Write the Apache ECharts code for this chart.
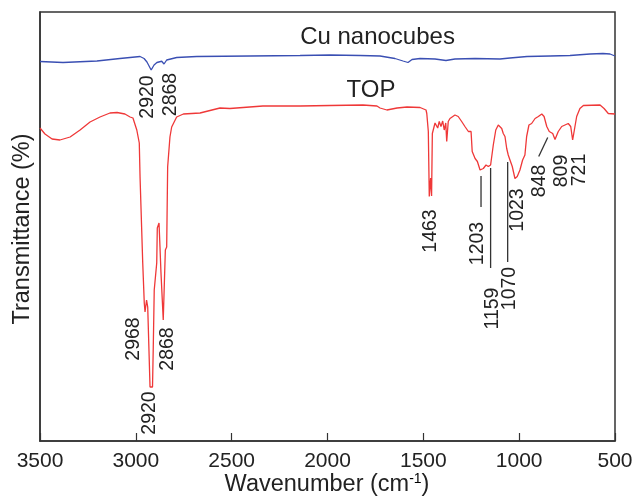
<!DOCTYPE html>
<html>
<head>
<meta charset="utf-8">
<script src="https://cdn.jsdelivr.net/npm/echarts@6/dist/echarts.min.js"></script>
<style>
  html, body { margin: 0; padding: 0; background: #fff; }
  #chart { width: 636px; height: 504px; }
</style>
</head>
<body>
<div id="chart"></div>
<script>
// FTIR spectra: Cu nanocubes vs. trioctylphosphine (TOP)
// Wavenumbers in cm^-1, transmittance in arbitrary % units (curves are offset).

const xTicks = [3500, 3000, 2500, 2000, 1500, 1000, 500];

const cuWavenumber = [3500, 3380, 3203, 3083, 2978, 2957, 2942, 2920, 2905, 2890, 2865, 2853, 2839, 2787, 2682, 2404, 2143, 1987, 1830, 1726, 1648, 1606, 1580, 1559, 1517, 1439, 1382, 1335, 1230, 1100, 1048, 959, 839, 735, 630, 563, 526, 500];
const cuTransmittance = [75.9, 75.7, 76.0, 76.5, 76.9, 76.5, 75.8, 74.2, 75.2, 75.7, 75.95, 75.4, 76.2, 76.7, 76.9, 77.0, 77.1, 77.2, 77.1, 77.0, 76.5, 76.0, 75.7, 76.3, 76.5, 76.4, 76.1, 76.4, 76.5, 76.4, 76.6, 76.9, 77.0, 77.1, 77.4, 77.5, 77.4, 77.0];

const topWavenumber = [3500, 3474, 3437, 3396, 3343, 3291, 3239, 3187, 3135, 3098, 3057, 3030, 3015, 2995, 2982, 2978, 2969, 2964, 2956, 2952, 2944, 2938, 2930, 2926, 2913, 2909, 2904, 2891, 2888, 2879, 2874, 2869, 2860, 2857, 2848, 2846, 2839, 2834, 2822, 2813, 2787, 2752, 2665, 2561, 2509, 2337, 2143, 1987, 1815, 1742, 1726, 1690, 1637, 1585, 1517, 1486, 1482, 1474, 1469, 1462, 1457, 1453, 1448, 1439, 1430, 1425, 1417, 1408, 1399, 1391, 1383, 1378, 1370, 1361, 1335, 1318, 1300, 1283, 1265, 1251, 1245, 1230, 1218, 1204, 1187, 1173, 1161, 1149, 1135, 1122, 1109, 1100, 1091, 1083, 1074, 1065, 1057, 1048, 1036, 1022, 1010, 996, 982, 970, 961, 949, 935, 917, 900, 882, 870, 856, 843, 835, 825, 813, 796, 778, 761, 744, 731, 721, 712, 700, 683, 665, 578, 557, 535, 500];
const topTransmittance = [62.6, 61.4, 60.4, 60.2, 60.8, 62.2, 63.8, 64.8, 65.6, 65.7, 65.4, 64.8, 64.6, 62.2, 59.6, 52.8, 52.6, 35.6, 27.6, 25.8, 28.2, 26.8, 16.2, 10.8, 10.8, 18.8, 30.2, 35.6, 42.6, 43.6, 38.8, 33.8, 33.6, 24.2, 24.2, 38.2, 38.8, 54.8, 60.8, 62.8, 64.8, 65.4, 65.6, 66.6, 66.5, 67.0, 67.0, 67.1, 67.2, 67.0, 66.6, 66.2, 66.6, 66.8, 66.7, 66.2, 65.5, 61.9, 48.9, 52.6, 49.0, 61.5, 61.9, 63.6, 63.9, 62.6, 63.9, 62.9, 64.0, 62.2, 63.6, 59.9, 63.9, 64.5, 65.2, 64.9, 63.9, 62.9, 61.9, 61.9, 57.9, 56.5, 55.9, 54.2, 54.5, 55.2, 54.9, 55.2, 59.2, 62.2, 63.2, 63.5, 62.5, 61.5, 60.9, 58.5, 57.2, 56.2, 54.9, 52.5, 52.9, 54.2, 56.2, 57.2, 60.9, 63.2, 63.5, 64.5, 64.9, 65.4, 64.9, 62.9, 61.9, 62.2, 61.5, 60.3, 61.9, 62.9, 63.2, 63.5, 62.9, 60.2, 62.2, 64.9, 66.5, 67.1, 67.2, 66.5, 65.5, 65.4];

// Peak assignments written along the spectra (text, anchor wavenumber, anchor transmittance)
const peakText = ['2920', '2868', '2968', '2868', '2920', '1463', '1203', '1159', '1070', '1023', '848', '809', '721'];
const peakAtWn = [2939, 2819, 3010, 2832, 2926, 1463, 1217, 1139, 1050, 1009, 894, 780, 685];
const peakAtT = [68.8, 69.3, 20.4, 18.4, 5.6, 42.0, 39.5, 26.5, 30.5, 46.2, 52.0, 54.0, 54.2];

// Leader lines from peak labels: [wn1, T1, wn2, T2]
const leaders = [
  [1199, 53.0, 1199, 46.8],
  [1149, 54.6, 1149, 34.6],
  [1060, 55.8, 1060, 35.8],
  [898, 56.9, 851, 60.7]
];

// Curve names
const curveNames = ['Cu nanocubes', 'TOP'];
const curveNameWn = [1739, 1773];
const curveNameT = [80.8, 70.2];

const FONT = '"Liberation Sans", Arial, Helvetica, sans-serif';
const zip = (a, b) => a.map((v, i) => [v, b[i]]);

const chart = echarts.init(document.getElementById('chart'), null, { renderer: 'canvas' });

chart.setOption({
  animation: false,
  backgroundColor: '#ffffff',
  grid: {
    left: 40, right: 21, top: 12, bottom: 63,
    show: true, borderColor: '#333333', borderWidth: 1.5
  },
  xAxis: {
    type: 'value',
    inverse: true,
    min: xTicks[xTicks.length - 1], max: xTicks[0], interval: 500,
    axisLine: { show: true, lineStyle: { color: '#333333', width: 1.5 } },
    axisTick: { show: true, inside: true, length: 8, lineStyle: { color: '#333333', width: 1.2 } },
    axisLabel: { color: '#222222', fontSize: 21, fontFamily: FONT, margin: 10, formatter: v => String(v) },
    splitLine: { show: false }
  },
  yAxis: {
    type: 'value',
    min: 0, max: 85.8,
    axisLine: { show: true, lineStyle: { color: '#333333', width: 1.5 } },
    axisTick: { show: false },
    axisLabel: { show: false },
    splitLine: { show: false }
  },
  series: [
    {
      name: curveNames[0], type: 'line', data: zip(cuWavenumber, cuTransmittance),
      showSymbol: false, lineStyle: { color: '#3a4fb3', width: 1.3 }, z: 3
    },
    {
      name: curveNames[1], type: 'line', data: zip(topWavenumber, topTransmittance),
      showSymbol: false, lineStyle: { color: '#ef3838', width: 1.3 }, z: 3
    },
    {
      // leader lines pointing from labels to their bands
      type: 'custom',
      renderItem: function (params, api) {
        const i = params.dataIndex;
        const p1 = api.coord([leaders[i][0], leaders[i][1]]);
        const p2 = api.coord([leaders[i][2], leaders[i][3]]);
        return {
          type: 'line',
          shape: { x1: p1[0], y1: p1[1], x2: p2[0], y2: p2[1] },
          style: { stroke: '#333333', lineWidth: 1.3 }
        };
      },
      data: leaders.map((d, i) => i),
      z: 4
    }
  ]
});

// Text drawn at data positions once the scales exist
const texts = [];
peakText.forEach((t, i) => {
  const p = chart.convertToPixel({ gridIndex: 0 }, [peakAtWn[i], peakAtT[i]]);
  texts.push({
    type: 'text', x: p[0], y: p[1], rotation: Math.PI / 2, z: 10,
    style: { text: t, fontSize: 19.5, fontFamily: FONT, fill: '#222222', align: 'center', verticalAlign: 'middle' }
  });
});
curveNames.forEach((t, i) => {
  const p = chart.convertToPixel({ gridIndex: 0 }, [curveNameWn[i], curveNameT[i]]);
  texts.push({
    type: 'text', x: p[0], y: p[1], z: 10,
    style: { text: t, fontSize: 24, fontFamily: FONT, fill: '#222222', align: 'center', verticalAlign: 'middle' }
  });
});
// Axis titles
texts.push({
  type: 'text', x: 23, y: 229, rotation: Math.PI / 2, z: 10,
  style: { text: 'Transmittance (%)', fontSize: 23.5, fontFamily: FONT, fill: '#222222', align: 'center', verticalAlign: 'middle' }
});
texts.push({
  type: 'text', x: 327, y: 485, z: 10,
  style: {
    text: '{a|Wavenumber (cm}{s|-1}{a|)}',
    align: 'center', verticalAlign: 'middle',
    rich: {
      a: { fontSize: 23.5, fontFamily: FONT, fill: '#222222', color: '#222222' },
      s: { fontSize: 14, fontFamily: FONT, color: '#222222', verticalAlign: 'top', padding: [0, 0, 12, 0] }
    }
  }
});
chart.setOption({ graphic: { elements: texts } });
</script>
</body>
</html>
